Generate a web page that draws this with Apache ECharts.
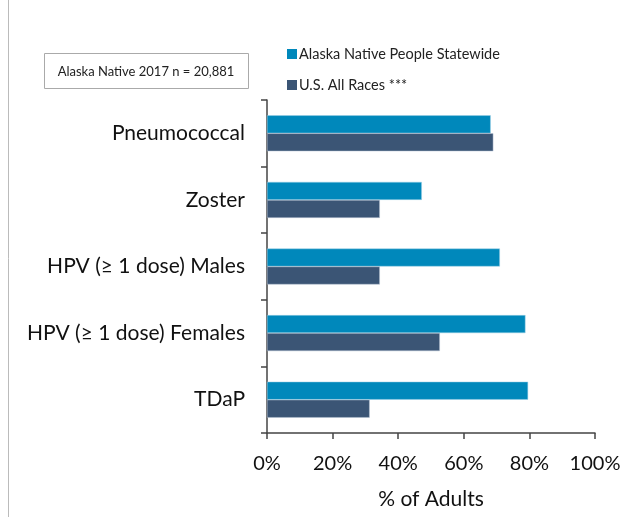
<!DOCTYPE html>
<html><head><meta charset="utf-8">
<script src="https://cdn.jsdelivr.net/npm/echarts@6/dist/echarts.min.js"></script>
<style>html,body{margin:0;padding:0;background:#fff}#c{width:640px;height:517px}</style>
</head><body><div id="c"></div>
<script>
const categories = ["Pneumococcal", "Zoster", "HPV (\u2265 1 dose) Males", "HPV (\u2265 1 dose) Females", "TDaP"];
const alaskaNative = [68.2, 47.2, 71.0, 78.8, 79.6];
const usAllRaces = [69.0, 34.4, 34.4, 52.7, 31.3];
const xTicks = [0, 20, 40, 60, 80, 100];
const seriesNames = ["Alaska Native People Statewide", "U.S. All Races ***"];
const noteText = "Alaska Native 2017 n = 20,881";

const FONT = "Lato, 'Open Sans', sans-serif";
const chart = echarts.init(document.getElementById('c'), null, {renderer: 'canvas'});
chart.setOption({
  animation: false,
  backgroundColor: '#fff',
  grid: {left: 267, right: 45, top: 100, bottom: 84, containLabel: false, outerBoundsMode: 'none'},
  legend: {
    orient: 'vertical', left: 287, top: 45, itemGap: 13, padding: 0,
    itemWidth: 10, itemHeight: 10, icon: 'rect',
    itemStyle: {borderWidth: 0},
    textStyle: {fontFamily: FONT, fontSize: 14.5, color: '#222', padding: [0,0,0,-3], lineHeight: 18},
    data: seriesNames
  },
  xAxis: {
    type: 'value', min: xTicks[0], max: xTicks[xTicks.length-1], interval: 20,
    axisLine: {show: true, lineStyle: {color: '#444', width: 1.5}},
    axisTick: {show: true, length: 6, lineStyle: {color: '#444', width: 1.5}},
    splitLine: {show: false},
    axisLabel: {formatter: v => v + '%', fontFamily: FONT, fontSize: 20, color: '#111', margin: 21},
    name: '% of Adults', nameLocation: 'middle', nameGap: 56,
    nameTextStyle: {fontFamily: FONT, fontSize: 21, color: '#111'}
  },
  yAxis: {
    type: 'category', data: categories, inverse: true,
    axisLine: {show: true, lineStyle: {color: '#444', width: 1.5}},
    axisTick: {show: true, length: 6, lineStyle: {color: '#444', width: 1.5}},
    axisLabel: {fontFamily: FONT, fontSize: 21, color: '#111', margin: 22}
  },
  series: [
    {name: seriesNames[0], type: 'bar', data: alaskaNative, barWidth: 18, barGap: '0%',
     itemStyle: {color: '#0088BB', borderColor: '#9fd0e6', borderWidth: 0.5}},
    {name: seriesNames[1], type: 'bar', data: usAllRaces, barWidth: 18, barGap: '0%',
     itemStyle: {color: '#3B5575', borderColor: '#b8c4d4', borderWidth: 0.5}}
  ],
  graphic: [
    {type: 'line', shape: {x1: 8.5, y1: 0, x2: 8.5, y2: 517}, style: {stroke: '#bbb', lineWidth: 1}},
    {type: 'rect', shape: {x: 44.5, y: 53.5, width: 204, height: 35}, style: {fill: '#fff', stroke: '#aaa', lineWidth: 1}},
    {type: 'text', x: 146, y: 72, style: {text: noteText, fontFamily: FONT, fontSize: 13, fill: '#222', align: 'center', verticalAlign: 'middle'}}
  ]
});
</script></body></html>
